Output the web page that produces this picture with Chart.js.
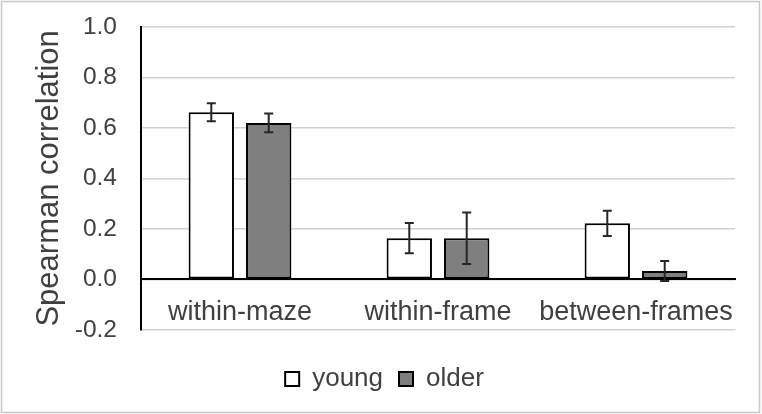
<!DOCTYPE html>
<html>
<head>
<meta charset="utf-8">
<script src="https://cdn.jsdelivr.net/npm/chart.js@4.4.1/dist/chart.umd.min.js"></script>
<style>
  html, body { margin: 0; padding: 0; background: #fff; }
  #wrap { width: 762px; height: 414px; }
</style>
</head>
<body>
<div id="wrap"><canvas id="myChart" width="762" height="414"></canvas></div>
<script>
var categories = ['within-maze', 'within-frame', 'between-frames'];
var young = [0.662, 0.163, 0.222];
var youngErr = [0.036, 0.060, 0.050];
var older = [0.620, 0.163, 0.033];
var olderErr = [0.037, 0.102, 0.040];
var yTicks = [-0.2, 0.0, 0.2, 0.4, 0.6, 0.8, 1.0];

Chart.defaults.font.family = '"Liberation Sans", Arial, sans-serif';
Chart.defaults.color = '#404040';

// frame round the whole picture
var framePlugin = {
    id: 'frame',
    beforeDraw: function(chart) {
        var ctx = chart.ctx;
        ctx.save();
        ctx.fillStyle = '#ffffff';
        ctx.fillRect(0, 0, chart.width, chart.height);
        ctx.strokeStyle = '#c8c8c8';
        ctx.lineWidth = 1.5;
        ctx.strokeRect(1.5, 1.5, 758, 411);
        ctx.restore();
    }
};

// nudge the legend a bit to the right, like the original
var legendShift = {
    id: 'legendShift',
    afterLayout: function(chart) {
        chart.legend.left += 12;
        chart.legend.right += 12;
    }
};

// error bars, drawn through the y scale
var errorBars = {
    id: 'errorBars',
    afterDatasetsDraw: function(chart) {
        var ctx = chart.ctx;
        var y = chart.scales.y;
        ctx.save();
        ctx.strokeStyle = '#262626';
        ctx.lineWidth = 2;
        chart.data.datasets.forEach(function(ds, di) {
            var meta = chart.getDatasetMeta(di);
            meta.data.forEach(function(bar, i) {
                var v = ds.data[i], e = ds.errors[i];
                var top = y.getPixelForValue(v + e);
                var bot = y.getPixelForValue(v - e);
                var x = bar.x;
                ctx.beginPath();
                ctx.moveTo(x, top); ctx.lineTo(x, bot);
                ctx.moveTo(x - 4.5, top); ctx.lineTo(x + 4.5, top);
                ctx.moveTo(x - 4.5, bot); ctx.lineTo(x + 4.5, bot);
                ctx.stroke();
            });
        });
        ctx.restore();
    }
};

var myChart = document.getElementById('myChart').getContext('2d');

var chart = new Chart(myChart, {
    type: 'bar',
    data: {
        labels: categories,
        datasets: [{
            label: 'young',
            data: young,
            errors: youngErr,
            backgroundColor: '#ffffff',
            borderColor: '#000000',
            borderWidth: 2,
            borderSkipped: false
        },
        {
            label: 'older',
            data: older,
            errors: olderErr,
            backgroundColor: '#7f7f7f',
            borderColor: '#000000',
            borderWidth: 2,
            borderSkipped: false
        }]
    },
    options: {
        responsive: false,
        animation: false,
        categoryPercentage: 0.58,
        barPercentage: 0.79,
        layout: { padding: { left: 10, right: 27, top: 27, bottom: 12 } },
        plugins: {
            tooltip: { enabled: false },
            legend: {
                position: 'bottom',
                title: { display: true, text: ' ', font: { size: 1 }, padding: { top: 19, bottom: 0 } },
                labels: {
                    boxWidth: 14,
                    boxHeight: 14,
                    padding: 16,
                    font: { size: 26 },
                    color: '#404040'
                }
            }
        },
        scales: {
            x: {
                position: { y: 0 },
                grid: { display: false, drawTicks: false },
                border: { color: '#000000', width: 2 },
                ticks: {
                    font: { size: 27 },
                    padding: 17,
                    color: '#404040',
                    autoSkip: false,
                    maxRotation: 0,
                    minRotation: 0
                }
            },
            y: {
                min: -0.2,
                max: 1.0,
                afterBuildTicks: function(scale) {
                    scale.ticks = yTicks.map(function(v) { return { value: v }; });
                },
                afterFit: function(scale) {
                    scale.width = 131;
                    scale.paddingTop = 0;
                    scale.paddingBottom = 0;
                },
                ticks: {
                    font: { size: 24.5 },
                    padding: 24,
                    color: '#404040',
                    callback: function(v) { return v.toFixed(1); }
                },
                grid: { color: '#d0d0d0', lineWidth: 1.5, drawTicks: false },
                border: { color: '#000000', width: 2 },
                title: {
                    display: true,
                    text: 'Spearman correlation',
                    font: { size: 31 },
                    color: '#404040',
                    padding: { top: 21, bottom: 0 }
                }
            }
        }
    },
    plugins: [framePlugin, legendShift, errorBars]
});
</script>
</body>
</html>
